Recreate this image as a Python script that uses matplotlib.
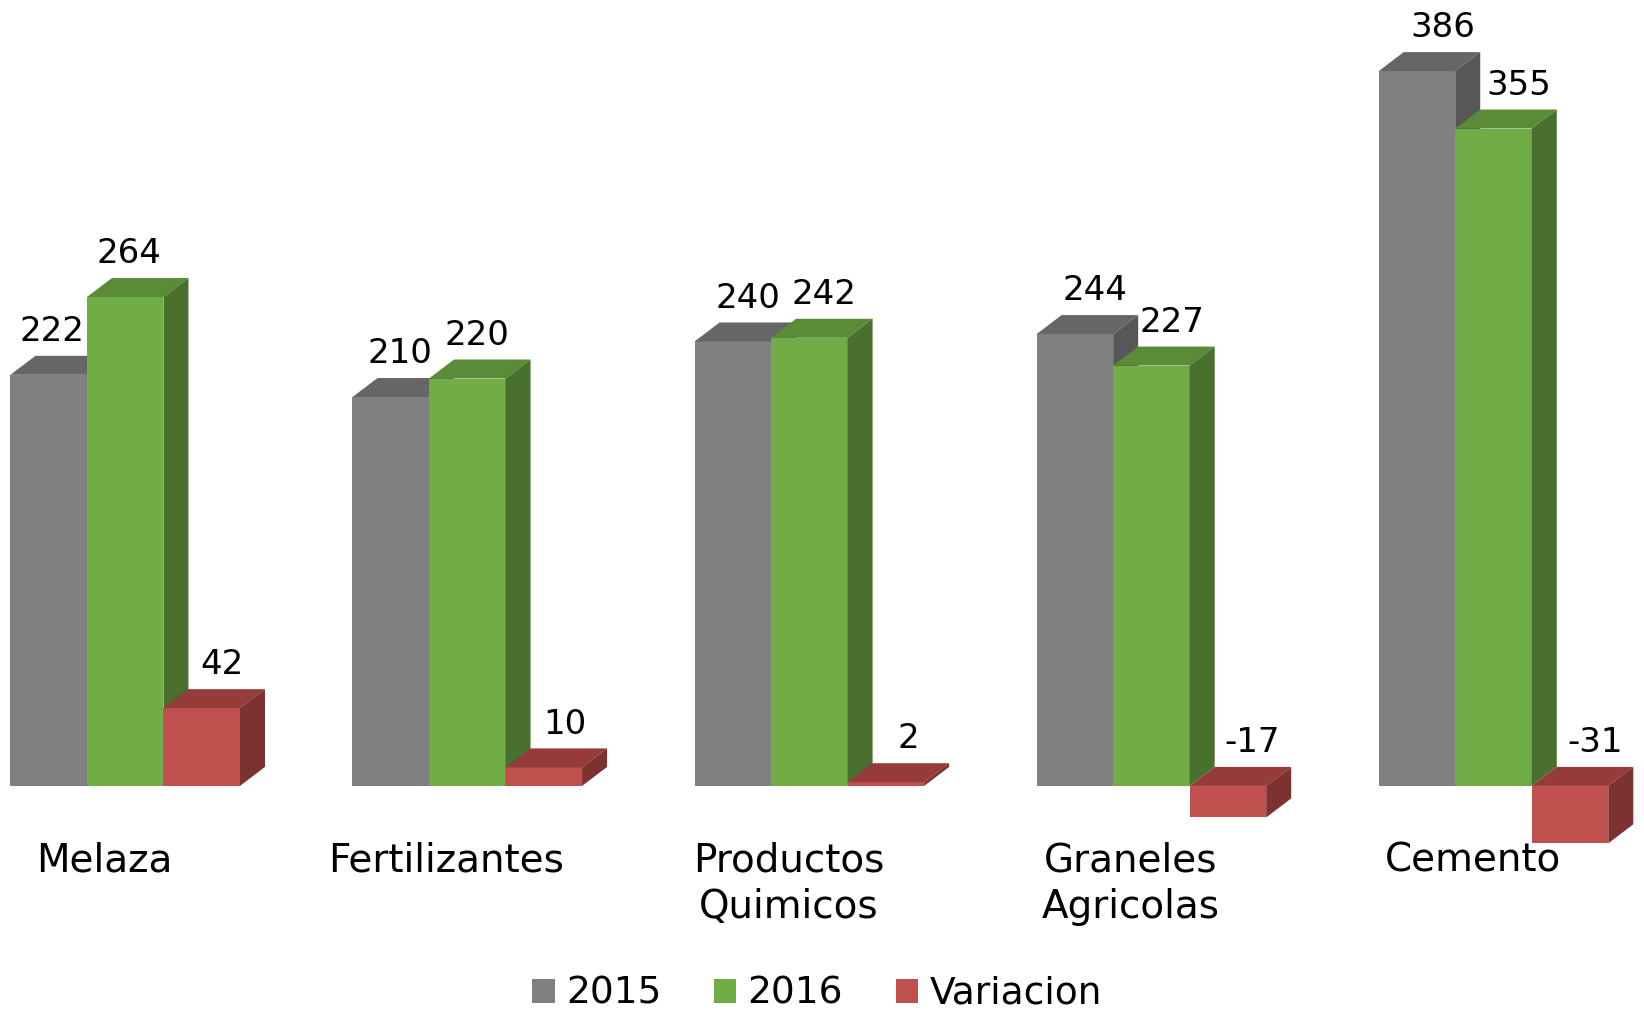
import matplotlib
matplotlib.use('Agg')
import matplotlib.pyplot as plt
from matplotlib.patches import Polygon, Patch
import numpy as np

plt.rcParams['font.family'] = ['DejaVu Sans']

# datos
categorias = ['Melaza', 'Fertilizantes', 'Productos\nQuimicos', 'Graneles\nAgricolas', 'Cemento']
v2015 = [222, 210, 240, 244, 386]
v2016 = [264, 220, 242, 227, 355]
variacion = [42, 10, 2, -17, -31]
series_names = ['2015', '2016', 'Variacion']

# colores: frente, tapa, lado
colores = [
    ('#808080', '#666666', '#575757'),
    ('#70AD47', '#5A8C38', '#4A702D'),
    ('#C0504D', '#953B39', '#7C3230'),
]

W, H = 1644, 1010
fig = plt.figure(figsize=(W / 100, H / 100), dpi=100)
ax = fig.add_axes([0, 0, 1, 1])
xmin, xmax = -0.366, 4.44
ymin, ymax = -121, 424.4
ax.set_xlim(xmin, xmax)
ax.set_ylim(ymin, ymax)
ax.axis('off')

bw = 0.2237
# profundidad 3D en pixeles -> datos
dx = 25 / (W / (xmax - xmin))
dy = 19 / (H / (ymax - ymin))

x = np.arange(len(categorias))
z = 1
for s, vals in enumerate([v2015, v2016, variacion]):
    front, top_c, side_c = colores[s]
    for i, v in enumerate(vals):
        x0 = x[i] + (s - 1.5) * bw
        x1 = x0 + bw
        top = max(v, 0)
        bot = min(v, 0)
        ax.add_patch(Polygon([(x0, bot), (x1, bot), (x1, top), (x0, top)],
                             closed=True, facecolor=front, edgecolor='none', zorder=z))
        ax.add_patch(Polygon([(x0, top), (x1, top), (x1 + dx, top + dy), (x0 + dx, top + dy)],
                             closed=True, facecolor=top_c, edgecolor='none', zorder=z))
        ax.add_patch(Polygon([(x1, bot), (x1, top), (x1 + dx, top + dy), (x1 + dx, bot + dy)],
                             closed=True, facecolor=side_c, edgecolor='none', zorder=z))
        z += 1
        # la perspectiva desplaza las etiquetas hacia la derecha
        if s == 2:
            off = dx * (0.8 + 0.05 * i)
        else:
            off = dx * (0.15 + 0.22 * i)
        ax.text(x0 + bw / 2 + off, top + dy + 8, str(v), ha='center', va='baseline',
                fontsize=24.5, color='black', zorder=50)

for i, c in enumerate(categorias):
    ax.text(x[i] - 0.061, -30, c, ha='center', va='top', fontsize=28,
            linespacing=1.3, color='black')

handles = [Patch(facecolor=colores[k][0], edgecolor='none') for k in range(3)]
fig.legend(handles, series_names, loc='center', bbox_to_anchor=(0.497, 0.016),
           ncol=3, frameon=False, fontsize=27, handlelength=0.6, handleheight=0.6,
           handletextpad=0.3, columnspacing=1.4, borderaxespad=0)

fig.savefig('out.png', dpi=100)
